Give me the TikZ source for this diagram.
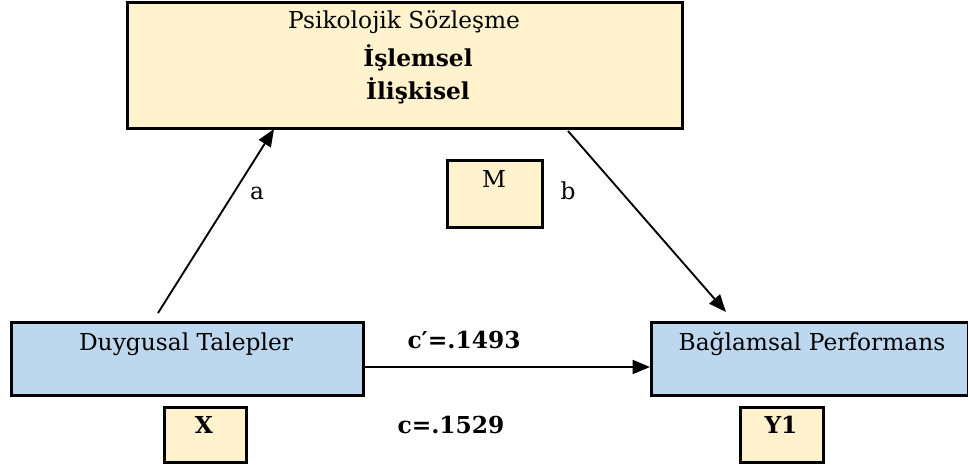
\documentclass[tikz,border=0pt]{standalone}
\usepackage{fontspec}
\setmainfont{DejaVu Serif}
\usetikzlibrary{arrows.meta}
\definecolor{boxyellow}{HTML}{FFF2CC}
\definecolor{boxblue}{HTML}{BDD7EE}
\begin{document}
\begin{tikzpicture}[x=0.75pt,y=-0.75pt,
  box/.style={draw=black,line width=2.1pt,inner sep=0pt,anchor=north west},
  ybox/.style={box,fill=boxyellow},
  bbox/.style={box,fill=boxblue},
  txt/.style={anchor=base,inner sep=0pt,font=\fontsize{17.5}{21}\selectfont},
  btxt/.style={txt,font=\fontsize{17.5}{21}\selectfont\bfseries},
  arr/.style={line width=1.4pt,-{Triangle[length=13pt,width=10.5pt]}}]
\useasboundingbox (0,0) rectangle (968,467);

% mediator
\node[ybox,minimum width=555*0.75pt,minimum height=126*0.75pt] (ps) at (126,1) {};
\node[txt] (psT) at (404,29) {Psikolojik Sözleşme};
\node[btxt] (psI) at (418,67) {İşlemsel};
\node[btxt] (psR) at (418,100) {İlişkisel};

\node[ybox,minimum width=95*0.75pt,minimum height=67*0.75pt] (m) at (446,159) {};
\node[txt] (mT) at (494,187) {M};

% independent and dependent variables
\node[bbox,minimum width=352*0.75pt,minimum height=73*0.75pt] (dt) at (10,321) {};
\node[txt] (dtT) at (186,350) {Duygusal Talepler};
\node[bbox,minimum width=317*0.75pt,minimum height=73*0.75pt] (bp) at (650,321) {};
\node[txt] (bpT) at (812,350) {Bağlamsal Performans};

\node[ybox,minimum width=82*0.75pt,minimum height=55*0.75pt] (x) at (163,406) {};
\node[btxt] (xT) at (204,433) {X};
\node[ybox,minimum width=83*0.75pt,minimum height=55*0.75pt] (y) at (739,406) {};
\node[btxt] (yT) at (781,433) {Y1};

% path labels
\node[txt] (la) at (257,199) {a};
\node[txt] (lb) at (568,199) {b};
\node[btxt] (lc1) at (464,348) {c′=.1493};
\node[btxt] (lc) at (451,433) {c=.1529};

% paths
\coordinate (aS) at (158,313);
\coordinate (aE) at (274,129);
\coordinate (bS) at (568,131);
\coordinate (bE) at (726,312);
\coordinate (cS) at (362,367);
\draw[arr] (aS) -- (aE);
\draw[arr] (bS) -- (bE);
\draw[arr] (cS) -- (cS -| bp.west);
\end{tikzpicture}
\end{document}
